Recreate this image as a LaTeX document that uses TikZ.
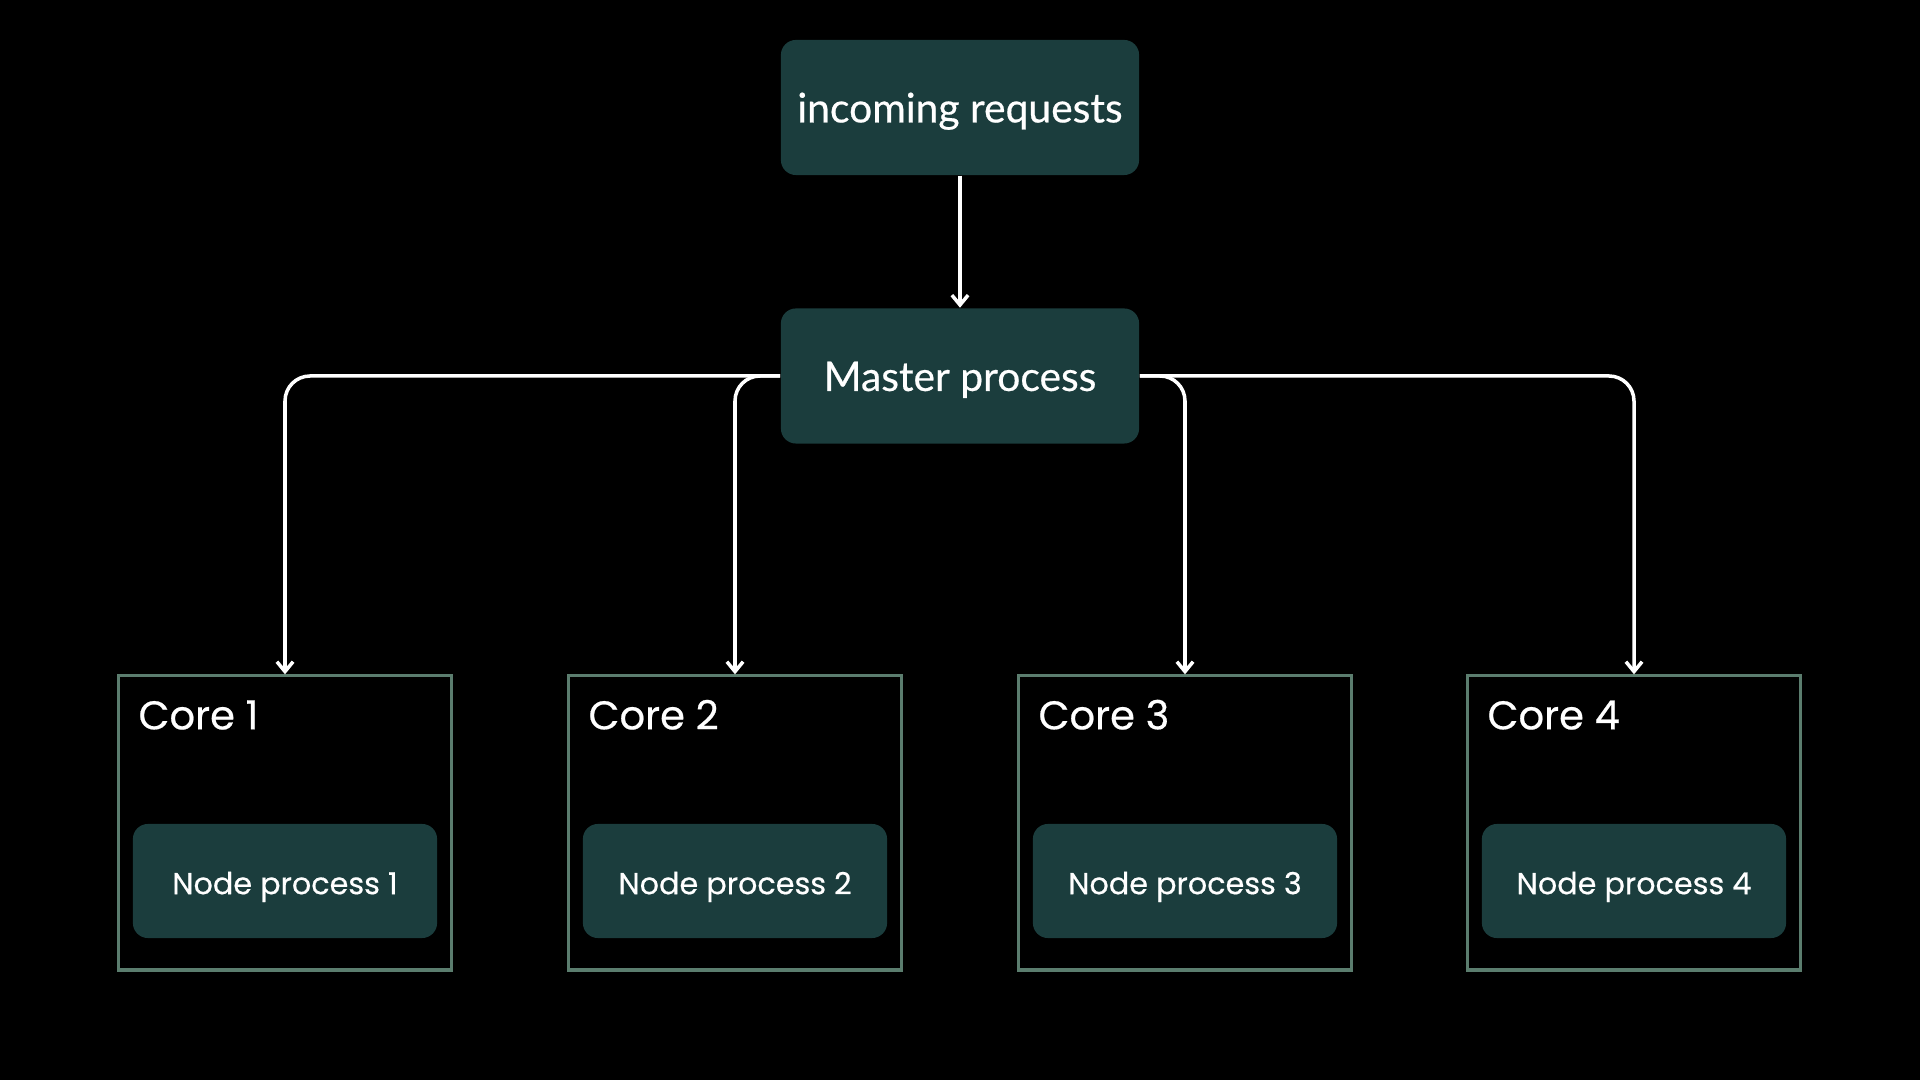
\documentclass[tikz,border=0pt]{standalone}
\usepackage{fontspec}
\setmainfont{Poppins}[BoldFont=Poppins, BoldFeatures={FakeBold=0.5}]
\newfontfamily\topfont{Lato}[BoldFont=Lato, BoldFeatures={FakeBold=0.5}]
\usetikzlibrary{positioning,arrows.meta}
\definecolor{boxfill}{HTML}{1B3D3D}
\definecolor{coreline}{HTML}{5B7D6E}
\begin{document}
\begin{tikzpicture}[x=0.01cm,y=-0.01cm,
        topbox/.style={fill=boxfill, rounded corners=0.15cm, minimum width=3.58cm, minimum height=1.35cm,
            text=white, text height=1.05em, text depth=0.2em, font=\topfont\bfseries\fontsize{11.6pt}{13pt}\selectfont},
        corebox/.style={draw=coreline, line width=0.9pt, minimum width=3.33cm, minimum height=2.94cm},
        corelabel/.style={text=white, inner sep=0pt, anchor=base west, font=\bfseries\fontsize{11.4pt}{13pt}\selectfont},
        procbox/.style={fill=boxfill, rounded corners=0.15cm, minimum width=3.04cm, minimum height=1.14cm,
            text=white, text height=0.95em, text depth=0.2em, font=\bfseries\fontsize{8.6pt}{10pt}\selectfont},
        link/.style={draw=white, line width=1pt, line join=round, -{Straight Barb[length=2.8pt,width=4.6pt]}}]
    % Background
    \fill[black] (0,0) rectangle (1920,1080);

    % Front nodes
    \node[topbox] (requests) at (960,107.5) {incoming requests};
    \node[topbox] (master) at (960,376) {Master process};

    % One box per core
    \foreach \i/\x in {1/285,2/735,3/1185,4/1634} {
        \node[corebox] (core\i) at (\x,823) {};
        \node[corelabel] (corelabel\i) at ([xshift=0.21cm,yshift=-0.55cm]core\i.north west) {Core \i};
        \node[procbox] (proc\i) at (\x,881) {Node process \i};
    }

    % Connectors
    \draw[link] (requests) -- (master);
    \draw[link, rounded corners=0.25cm] (master.west) -| (core1.north);
    \draw[link, rounded corners=0.25cm] (master.west) -| (core2.north);
    \draw[link, rounded corners=0.25cm] (master.east) -| (core3.north);
    \draw[link, rounded corners=0.25cm] (master.east) -| (core4.north);
\end{tikzpicture}
\end{document}
